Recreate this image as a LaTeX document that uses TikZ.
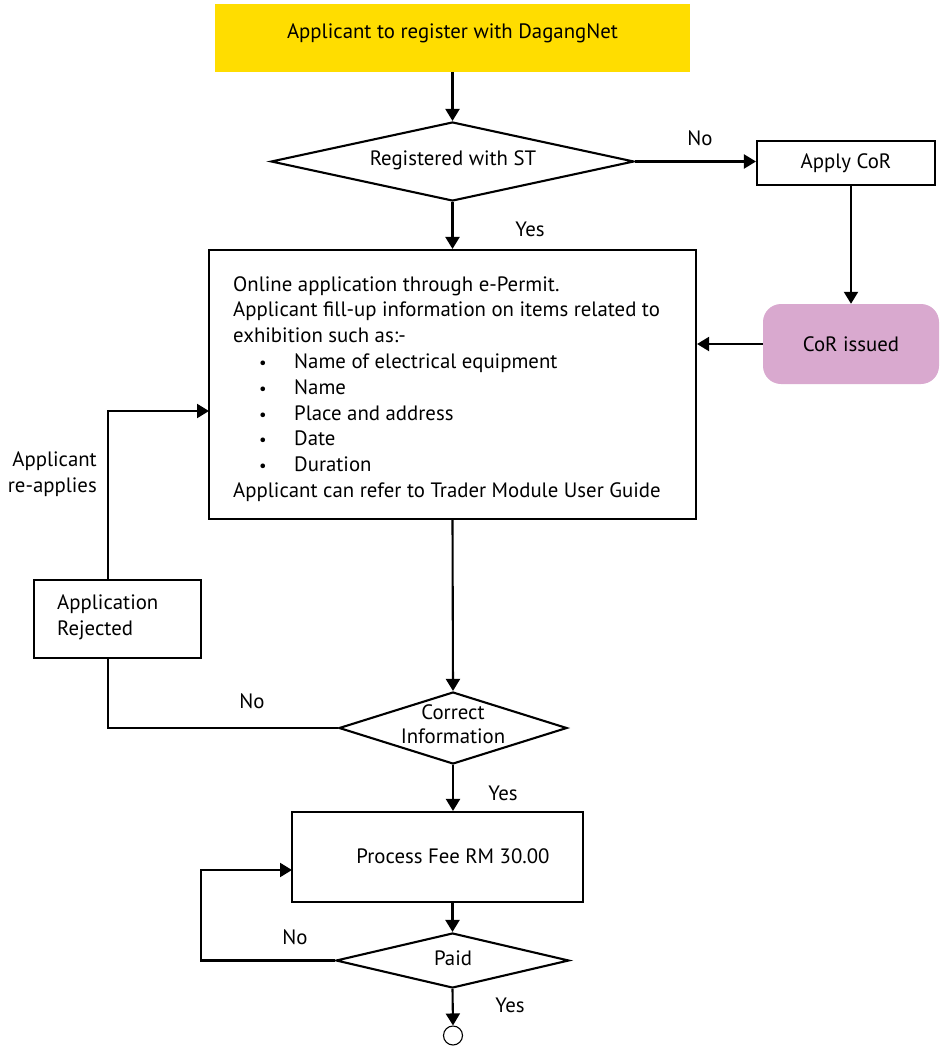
\documentclass[tikz,border=0pt]{standalone}
\usepackage{fontspec}
\setmainfont{PT Sans}
\usetikzlibrary{arrows.meta,shapes.geometric}
\definecolor{ylw}{HTML}{FFDD00}
\definecolor{pnk}{HTML}{D9A9CF}
\begin{document}
\begin{tikzpicture}[x=1pt,y=-1pt,
  every node/.style={font=\fontsize{20.8}{25.8}\selectfont},
  box/.style={draw,line width=2.1pt,rectangle,inner sep=0pt},
  dec/.style={draw,line width=2.1pt,shape=diamond,inner sep=0pt},
  lbl/.style={inner sep=0pt},
  arr/.style={line width=2.1pt,-{Triangle[width=14pt,length=12pt]}},
  ln/.style={line width=2.1pt}]
\useasboundingbox (0,0) rectangle (941,1046);

\node[fill=ylw,minimum width=475,minimum height=68,inner sep=0pt] (reg) at (452.5,38) {};
\node[lbl] at (452.5,33) {Applicant to register with DagangNet};

\node[dec,minimum width=363,minimum height=79,aspect=4.6] (d1) at (452.5,161.5) {};
\node[lbl] at (453,160) {Registered with ST};

\node[box,minimum width=178,minimum height=44] (cor) at (846,163) {Apply CoR};
\node[fill=pnk,rounded corners=18pt,minimum width=176,minimum height=80,inner sep=0pt] (iss) at (851,344) {CoR issued};

\node[box,minimum width=487,minimum height=269] (online) at (452.5,384.5) {};
\node[lbl,anchor=west,align=left] (onlinetxt) at (233,389)
{Online application through e-Permit.\\
Applicant fill-up information on items related to\\
exhibition such as:-\\
\hspace*{26pt}\makebox[35pt][l]{\scalebox{0.8}{\textbullet}}Name of electrical equipment\\
\hspace*{26pt}\makebox[35pt][l]{\scalebox{0.8}{\textbullet}}Name\\
\hspace*{26pt}\makebox[35pt][l]{\scalebox{0.8}{\textbullet}}Place and address\\
\hspace*{26pt}\makebox[35pt][l]{\scalebox{0.8}{\textbullet}}Date\\
\hspace*{26pt}\makebox[35pt][l]{\scalebox{0.8}{\textbullet}}Duration\\
Applicant can refer to Trader Module User Guide};

\node[box,minimum width=167,minimum height=78] (rej) at (117.5,619) {};
\node[lbl,anchor=west,align=left] at (57,617) {Application\\Rejected};

\node[dec,minimum width=228,minimum height=72,aspect=3.2] (d2) at (453,728) {};
\node[lbl,align=center,font=\fontsize{20.8}{24}\selectfont] at (453,724) {Correct\\Information};

\node[box,minimum width=291,minimum height=90] (fee) at (437.5,857) {};
\node[lbl] at (453,856) {Process Fee RM 30.00};

\node[dec,minimum width=233,minimum height=55,aspect=4.2] (paid) at (452.5,960.5) {};
\node[lbl] at (453,958) {Paid};

\node[draw,circle,line width=1.1pt,minimum size=19pt,inner sep=0pt] (end) at (453,1035.5) {};

\coordinate (reentry) at (209,411);
\coordinate (feein) at (292,870);

\node[lbl] at (700,138) {No};
\node[lbl] at (530,229) {Yes};
\node[lbl] at (252,701) {No};
\node[lbl] at (503,793) {Yes};
\node[lbl] at (295,937) {No};
\node[lbl] at (510,1005) {Yes};
\node[lbl,align=right,anchor=east] at (97,474) {Applicant\\re-applies};

\draw[arr] (reg.south -| d1.north) -- (d1.north);
\draw[arr] (d1.east) -- (d1.east -| cor.west);
\draw[arr] (cor.south -| iss.north) -- (iss.north);
\draw[arr] (iss.west) -- (iss.west -| online.east);
\draw[arr] (d1.south) -- (online.north);
\draw[arr] (online.south) -- (d2.north);
\draw[arr] (rej.north -| 108,0) |- (reentry);
\draw[ln] (d2.west) -| (rej.south -| 108,0);
\draw[arr] (d2.south) -- (fee.north -| d2.south);
\draw[arr] (fee.south -| paid.north) -- (paid.north);
\draw[arr] (paid.west) -- ++(-134,0) |- (feein);
\draw[arr] (paid.south) -- (end.north);
\end{tikzpicture}
\end{document}
